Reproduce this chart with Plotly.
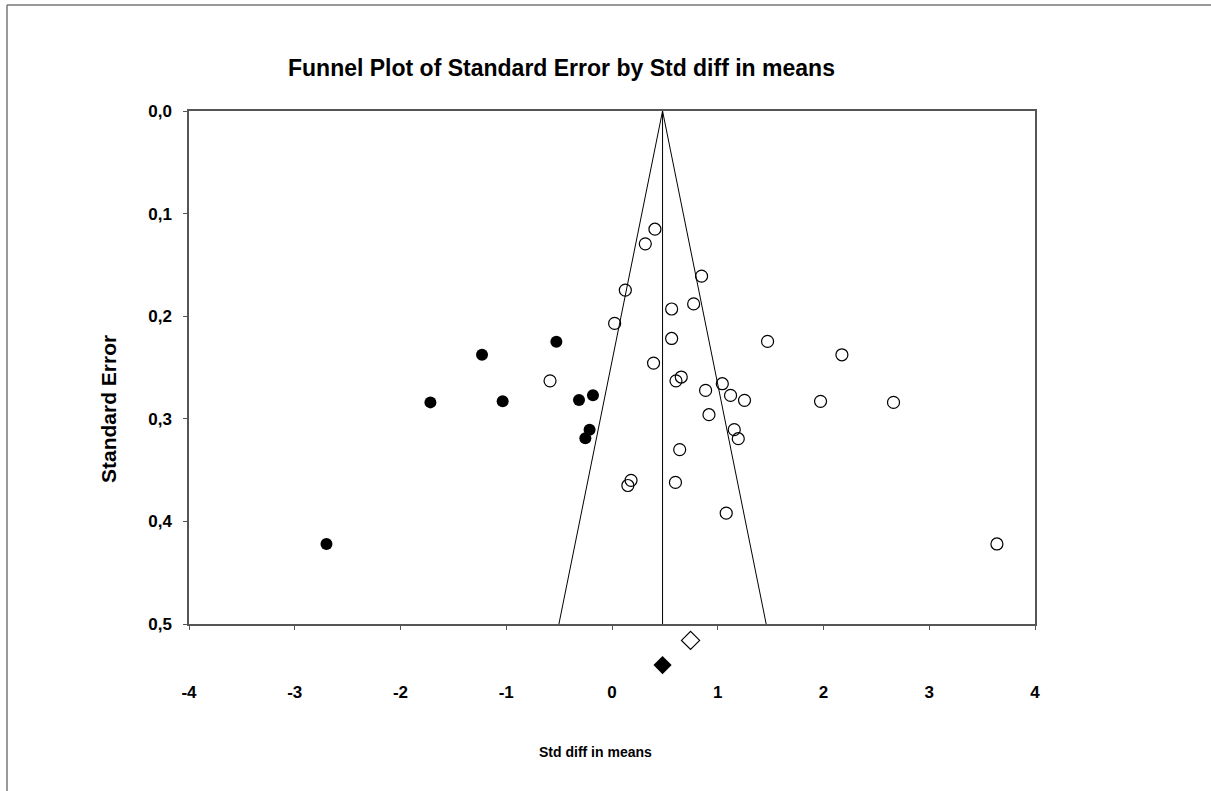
import plotly.graph_objects as go

# Observed studies (open circles)
obs_x = [0.406, 0.315, 0.847, 0.126, 0.564, 0.772, 0.025, 0.564, 1.471, 2.174,
         0.393, 0.605, 0.655, 1.043, 0.885, 1.121, 1.253, 1.972, 0.917, 2.662,
         1.156, 1.194, -0.586, 0.15, 0.18, 0.60, 0.64, 1.08, 3.64]
obs_se = [0.1152, 0.1295, 0.161, 0.1746, 0.193, 0.188, 0.207, 0.2217, 0.2246, 0.2376,
          0.2457, 0.263, 0.2593, 0.2658, 0.2723, 0.2772, 0.282, 0.283, 0.296, 0.284,
          0.3106, 0.3194, 0.263, 0.365, 0.36, 0.362, 0.33, 0.392, 0.422]

# Imputed studies (filled circles)
imp_x = [-0.526, -1.229, -1.717, -1.034, -0.312, -0.18, -0.212, -0.252, -2.70]
imp_se = [0.225, 0.2376, 0.284, 0.283, 0.2817, 0.277, 0.3106, 0.319, 0.422]

# Summary estimates (drawn below the axis, on the same SE scale)
obs_mean_x = [0.743]
obs_mean_y = [0.516]
adj_mean_x = [0.478]
adj_mean_y = [0.540]

funnel_center = 0.478
se_max = 0.5
z = 1.96

x_ticks = [-4, -3, -2, -1, 0, 1, 2, 3, 4]
y_ticks = [0.0, 0.1, 0.2, 0.3, 0.4, 0.5]

FONT = "Liberation Sans, Arial, sans-serif"

W, H = 1211, 791
L, T = 189, 111
PW = 846
BOX_BOTTOM = 624          # pixel of SE = 0.5
AREA_BOTTOM = 700         # extended plotting area for the summary diamonds
PH = AREA_BOTTOM - T
R, B = W - L - PW, H - AREA_BOTTOM
SE_PER_PX = se_max / (BOX_BOTTOM - T)
d = (AREA_BOTTOM - BOX_BOTTOM) / PH


def px(xpix):
    return (xpix - L) / PW


def py(ypix):
    return 1 - (ypix - T) / PH


fig = go.Figure()

# funnel lines
fig.add_trace(go.Scatter(
    x=[funnel_center - z * se_max, funnel_center, funnel_center + z * se_max],
    y=[se_max, 0, se_max], mode="lines",
    line=dict(color="black", width=1), hoverinfo="skip", showlegend=False))
fig.add_trace(go.Scatter(
    x=[funnel_center, funnel_center], y=[0, se_max], mode="lines",
    line=dict(color="black", width=1), hoverinfo="skip", showlegend=False))

fig.add_trace(go.Scatter(
    x=obs_x, y=obs_se, mode="markers",
    marker=dict(symbol="circle-open", size=12, color="black", line=dict(width=1.2, color="black")),
    showlegend=False))
fig.add_trace(go.Scatter(
    x=imp_x, y=imp_se, mode="markers",
    marker=dict(symbol="circle", size=12, color="black"),
    showlegend=False))

fig.add_trace(go.Scatter(
    x=obs_mean_x, y=obs_mean_y, mode="markers", xaxis="x2", yaxis="y2",
    marker=dict(symbol="diamond-open", size=14, color="black", line=dict(width=1.2, color="black")),
    showlegend=False))
fig.add_trace(go.Scatter(
    x=adj_mean_x, y=adj_mean_y, mode="markers", xaxis="x2", yaxis="y2",
    marker=dict(symbol="diamond", size=14, color="black"),
    showlegend=False))

fig.update_layout(
    width=W, height=H,
    margin=dict(l=L, r=R, t=T, b=B),
    paper_bgcolor="white", plot_bgcolor="white",
    separators=",.",
    xaxis=dict(range=[-4, 4], tickvals=x_ticks, ticktext=[str(v) for v in x_ticks],
               anchor="y", domain=[0, 1],
               showgrid=False, zeroline=False, showline=True, mirror=True,
               linecolor="#555555", linewidth=1.5, ticks="outside", ticklen=4,
               tickcolor="#555555", ticklabelstandoff=48,
               tickfont=dict(family=FONT, size=17, color="black", weight="bold")),
    yaxis=dict(range=[se_max, 0], tickvals=y_ticks, tickformat=".1f",
               domain=[d, 1], anchor="x",
               showgrid=False, zeroline=False, showline=True, mirror=True,
               linecolor="#555555", linewidth=1.5, ticks="outside", ticklen=4,
               tickcolor="#555555", ticklabelstandoff=8,
               tickfont=dict(family=FONT, size=17, color="black", weight="bold")),
    xaxis2=dict(range=[-4, 4], anchor="y2", domain=[0, 1], visible=False),
    yaxis2=dict(range=[se_max + (AREA_BOTTOM - BOX_BOTTOM) * SE_PER_PX, se_max],
                domain=[0, d], anchor="x2", visible=False),
    annotations=[
        dict(text="Funnel Plot of Standard Error by Std diff in means",
             xref="paper", yref="paper", x=px(561), y=py(68),
             xanchor="center", yanchor="middle", showarrow=False,
             font=dict(family=FONT, size=23, color="black", weight="bold")),
        dict(text="Std diff in means", xref="paper", yref="paper",
             x=px(595), y=py(752),
             xanchor="center", yanchor="middle", showarrow=False,
             font=dict(family=FONT, size=14, color="black", weight="bold")),
        dict(text="Standard Error", xref="paper", yref="paper",
             x=px(108), y=py(409), textangle=-90,
             xanchor="center", yanchor="middle", showarrow=False,
             font=dict(family=FONT, size=21, color="black", weight="bold")),
    ],
    shapes=[
        dict(type="line", xref="paper", yref="paper",
             x0=px(7), x1=px(1300), y0=py(5), y1=py(5),
             line=dict(color="#777777", width=1.5)),
        dict(type="line", xref="paper", yref="paper",
             x0=px(7), x1=px(7), y0=py(5), y1=py(900),
             line=dict(color="#777777", width=1.5)),
    ],
)

fig.write_html(
    "out.html",
    config={"displayModeBar": False},
    post_script="document.body.style.margin='0';document.body.style.overflow='hidden';",
)
